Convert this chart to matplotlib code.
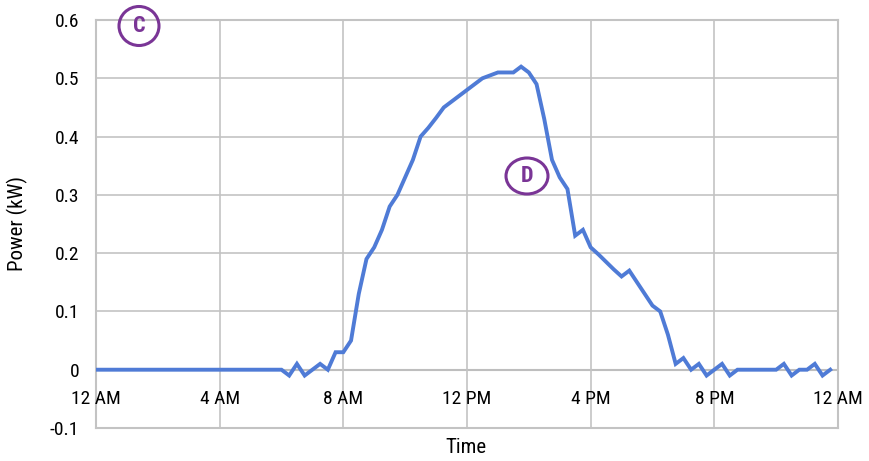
import matplotlib
matplotlib.use("Agg")
import matplotlib.pyplot as plt
from matplotlib.patches import Ellipse
import numpy as np

# power readings every 15 minutes, starting at midnight (kW)
power = [
    # 12 AM - 6 AM
    0, 0, 0, 0, 0, 0, 0, 0, 0, 0, 0, 0,
    0, 0, 0, 0, 0, 0, 0, 0, 0, 0, 0, 0,
    # 6 AM - 8 AM
    0, -0.01, 0.01, -0.01, 0.0, 0.01, 0.0, 0.03,
    # 8 AM - 12 PM
    0.03, 0.05, 0.13, 0.19, 0.21, 0.24, 0.28, 0.30,
    0.33, 0.36, 0.40, 0.415, 0.432, 0.45, 0.46, 0.47,
    # 12 PM - 4 PM
    0.48, 0.49, 0.50, 0.505, 0.51, 0.51, 0.51, 0.52,
    0.51, 0.49, 0.43, 0.36, 0.33, 0.31, 0.23, 0.24,
    # 4 PM - 8 PM
    0.21, 0.198, 0.185, 0.172, 0.16, 0.17, 0.15, 0.13,
    0.11, 0.10, 0.06, 0.01, 0.02, 0.0, 0.01, -0.01,
    # 8 PM - 12 AM
    0.0, 0.01, -0.01, 0.0, 0.0, 0.0, 0.0, 0.0,
    0.0, 0.01, -0.01, 0.0, 0.0, 0.01, -0.01, 0.0,
]
hours = np.arange(len(power)) * 0.25

tick_hours = [0, 4, 8, 12, 16, 20, 24]
tick_labels = ["12 AM", "4 AM", "8 AM", "12 PM", "4 PM", "8 PM", "12 AM"]
y_ticks = [-0.1, 0, 0.1, 0.2, 0.3, 0.4, 0.5, 0.6]
y_labels = ["-0.1", "0", "0.1", "0.2", "0.3", "0.4", "0.5", "0.6"]

font = ["Roboto Condensed", "Archivo Narrow", "Barlow Condensed", "DejaVu Sans"]
grid_col = "#c3c3c3"
line_col = "#4f7bd6"
purple = "#7a3596"

fig = plt.figure(figsize=(8.7, 4.61), dpi=100)
ax = fig.add_axes([0.1103, 0.0716, 0.8529, 0.885])

ax.plot(hours, power, color=line_col, lw=2.8, solid_joinstyle="miter", zorder=3)

ax.set_xlim(0, 24)
ax.set_ylim(-0.1, 0.6)
ax.set_xticks(tick_hours)
ax.set_xticklabels([])
ax.set_yticks(y_ticks)
ax.set_yticklabels(y_labels, family=font, fontsize=14)
ax.tick_params(length=0, pad=12)
ax.grid(True, color=grid_col, lw=1.2, zorder=0)
ax.axhline(0, color="#a6a6a6", lw=1.5, zorder=1)
for s in ax.spines.values():
    s.set_color(grid_col)
    s.set_linewidth(1.5)

# x labels sit just under the zero line
for h, lab in zip(tick_hours, tick_labels):
    ax.text(h, -0.051, lab, ha="center", va="center", family=font, fontsize=14)

ax.set_ylabel("Power (kW)", family=font, fontsize=15, labelpad=16)
fig.text(0.536, 0.03, "Time", ha="center", va="center", family=font, fontsize=15)

# circled markers
for (cx, cy), letter, w, h in [((139, 26), "C", 40, 39), ((527, 176), "D", 42, 36)]:
    xf, yf = cx / 870, 1 - cy / 461
    fig.patches.append(Ellipse((xf, yf), w / 870, h / 461, transform=fig.transFigure,
                               fill=False, ec=purple, lw=2.2, zorder=5))
    fig.text(xf, yf, letter, ha="center", va="center", color=purple,
             family=font, fontsize=16, fontweight="bold")

fig.savefig("out.png", dpi=100)
